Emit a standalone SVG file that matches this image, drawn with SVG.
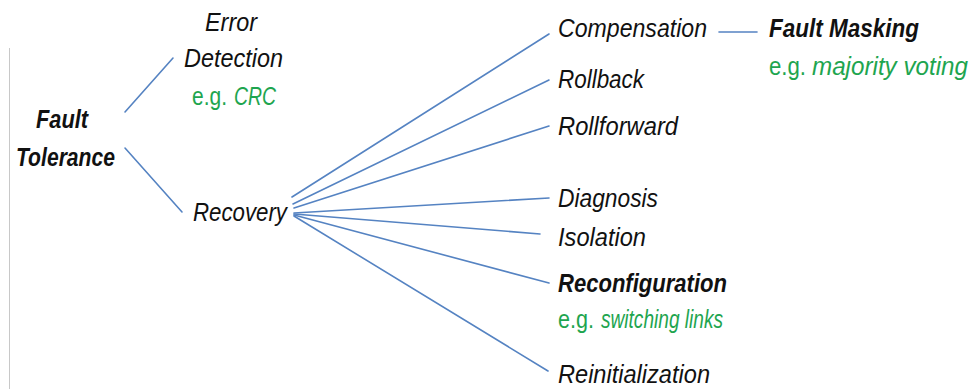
<svg xmlns="http://www.w3.org/2000/svg" width="978" height="389" viewBox="0 0 978 389">
  <style>
    text { font-family: "Liberation Sans", Arial, sans-serif; font-size: 25px; fill: #111; }
    .it { font-style: italic; }
    .bd { font-weight: bold; font-style: italic; }
    .eg { fill: #1ea54f; font-style: normal; }
    .egi { fill: #1ea54f; font-style: italic; }
    .link { stroke: #5583c2; stroke-width: 1.6; fill: none; stroke-linecap: round; }
  </style>
  <rect width="978" height="389" fill="#fff"/>
  <!-- left margin rule -->
  <line x1="9.5" y1="48" x2="9.5" y2="389" stroke="#c8c8c8" stroke-width="1"/>

  <g id="connectors">
    <line class="link" x1="125" y1="112" x2="173" y2="58"/>
    <line class="link" x1="125" y1="148" x2="182" y2="212"/>
    <line class="link" x1="292" y1="197" x2="549" y2="34"/>
    <line class="link" x1="293" y1="204" x2="549" y2="80"/>
    <line class="link" x1="294" y1="208" x2="549" y2="126"/>
    <line class="link" x1="294" y1="213" x2="549" y2="198"/>
    <line class="link" x1="294" y1="214" x2="540" y2="234"/>
    <line class="link" x1="294" y1="215" x2="549" y2="283"/>
    <line class="link" x1="294" y1="216" x2="548" y2="371"/>
    <line class="link" x1="719" y1="32" x2="757" y2="32"/>
  </g>

  <g id="fault-tolerance">
    <text class="bd" x="36" y="128" textLength="52" lengthAdjust="spacingAndGlyphs">Fault</text>
    <text class="bd" x="16" y="166" textLength="99" lengthAdjust="spacingAndGlyphs">Tolerance</text>
  </g>

  <g id="error-detection">
    <text class="it" x="205" y="31" textLength="52" lengthAdjust="spacingAndGlyphs">Error</text>
    <text class="it" x="184" y="67" textLength="99" lengthAdjust="spacingAndGlyphs">Detection</text>
    <text class="eg" x="192" y="105" textLength="35" lengthAdjust="spacingAndGlyphs">e.g.</text>
    <text class="egi" x="234" y="105" textLength="42" lengthAdjust="spacingAndGlyphs">CRC</text>
  </g>

  <g id="recovery">
    <text class="it" x="193" y="221" textLength="94" lengthAdjust="spacingAndGlyphs">Recovery</text>
  </g>

  <g id="compensation">
    <text class="it" x="558" y="37" textLength="149" lengthAdjust="spacingAndGlyphs">Compensation</text>
  </g>

  <g id="fault-masking">
    <text class="bd" x="769" y="37" textLength="150" lengthAdjust="spacingAndGlyphs">Fault Masking</text>
    <text class="eg" x="769" y="75" textLength="37" lengthAdjust="spacingAndGlyphs">e.g.</text>
    <text class="egi" x="812" y="75" textLength="156" lengthAdjust="spacingAndGlyphs">majority voting</text>
  </g>

  <g id="rollback">
    <text class="it" x="558" y="88" textLength="86" lengthAdjust="spacingAndGlyphs">Rollback</text>
  </g>

  <g id="rollforward">
    <text class="it" x="558" y="135" textLength="120" lengthAdjust="spacingAndGlyphs">Rollforward</text>
  </g>

  <g id="diagnosis">
    <text class="it" x="558" y="207" textLength="100" lengthAdjust="spacingAndGlyphs">Diagnosis</text>
  </g>

  <g id="isolation">
    <text class="it" x="558" y="246" textLength="88" lengthAdjust="spacingAndGlyphs">Isolation</text>
  </g>

  <g id="reconfiguration">
    <text class="bd" x="558" y="292" textLength="169" lengthAdjust="spacingAndGlyphs">Reconfiguration</text>
    <text class="eg" x="558" y="328" textLength="36" lengthAdjust="spacingAndGlyphs">e.g.</text>
    <text class="egi" x="601" y="328" textLength="122" lengthAdjust="spacingAndGlyphs">switching links</text>
  </g>

  <g id="reinitialization">
    <text class="it" x="558" y="383" textLength="152" lengthAdjust="spacingAndGlyphs">Reinitialization</text>
  </g>
</svg>
